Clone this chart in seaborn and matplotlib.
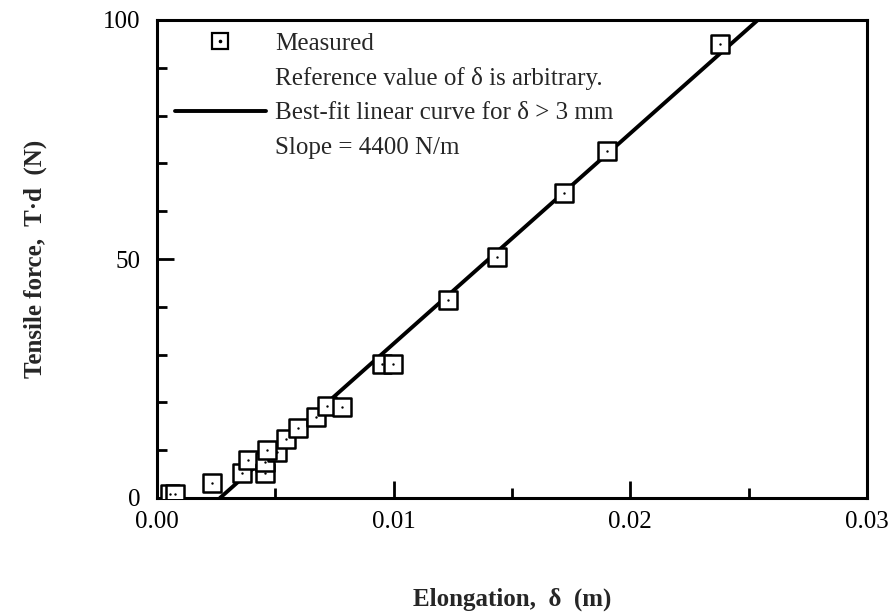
import matplotlib
matplotlib.use("Agg")
import matplotlib.pyplot as plt
from matplotlib.lines import Line2D
from matplotlib.ticker import MultipleLocator, FormatStrFormatter
import numpy as np
import pandas as pd
import seaborn as sns

# ---- data ----
elongation_m = [0.00055, 0.00076, 0.00231, 0.00361, 0.00383, 0.00456, 0.00456,
                0.00506, 0.00463, 0.00544, 0.00594, 0.00671, 0.00718, 0.00783,
                0.00950, 0.00999, 0.01230, 0.01437, 0.01720, 0.01900, 0.02380]
tensile_N = [0.84, 0.84, 3.07, 5.3, 7.9, 5.3, 7.46,
             9.7, 10.0, 12.3, 14.6, 16.9, 19.25, 19.1,
             28.0, 28.0, 41.4, 50.4, 63.8, 72.6, 95.0]

fit_slope_N_per_m = 4400.0
fit_x_intercept_m = 0.00266
fit_force_range = [0.0, 100.0]

x_ticks_major = [0.00, 0.01, 0.02, 0.03]
y_ticks_major = [0, 50, 100]

legend_labels = ["Measured",
                 "Reference value of \u03b4 is arbitrary.",
                 "Best-fit linear curve for \u03b4 > 3 mm",
                 "Slope = 4400 N/m"]

meas = pd.DataFrame({"x": elongation_m, "y": tensile_N})
fit_y = np.array(fit_force_range)
fit = pd.DataFrame({"y": fit_y, "x": fit_x_intercept_m + fit_y / fit_slope_N_per_m})

# ---- style ----
sns.set_theme(style="ticks")
plt.rcParams["font.family"] = ["Liberation Serif", "DejaVu Serif"]

fig = plt.figure(figsize=(8.95, 6.16), dpi=100)
ax = fig.add_axes([157 / 895, 1 - 498 / 616, (867 - 157) / 895, (498 - 20) / 616])

sns.lineplot(data=fit, x="x", y="y", ax=ax, color="black", linewidth=2.8,
             sort=False, estimator=None, zorder=2)
sns.scatterplot(data=meas, x="x", y="y", ax=ax, marker="s", s=150,
                facecolor="white", edgecolor="black", linewidth=1.8, zorder=3)
sns.scatterplot(data=meas, x="x", y="y", ax=ax, marker="o", s=3,
                color="black", linewidth=0, zorder=4)

ax.set_xlim(0, 0.03)
ax.set_ylim(0, 100)
ax.set_xticks(x_ticks_major)
ax.set_yticks(y_ticks_major)
ax.xaxis.set_minor_locator(MultipleLocator(0.005))
ax.yaxis.set_minor_locator(MultipleLocator(10))
ax.xaxis.set_major_formatter(FormatStrFormatter("%.2f"))
ax.tick_params(which="both", direction="in", top=False, right=False,
               width=2.0, colors="black", labelsize=18)
ax.tick_params(which="major", length=12)
ax.tick_params(which="minor", length=7)
ax.tick_params(axis="x", pad=9.5)
ax.tick_params(axis="y", pad=12)
for sp in ax.spines.values():
    sp.set_visible(True)
    sp.set_linewidth(2.2)
    sp.set_color("black")

ax.set_xlabel("Elongation,  \u03b4  (m)", fontsize=18, fontweight="bold", labelpad=39)
ax.set_ylabel("Tensile force,  T\u00b7d  (N)", fontsize=18, fontweight="bold", labelpad=40)

sq = Line2D([], [], marker="s", ls="none", mfc="white", mec="black", ms=11, mew=1.6)
dot = Line2D([], [], marker="o", ls="none", color="black", ms=1.6)
blank = Line2D([], [], ls="none", marker=None)
ln = Line2D([], [], color="black", lw=2.8)
ax.legend([(sq, dot), blank, ln, blank], legend_labels, loc="upper left",
          bbox_to_anchor=(0.011, 0.995), frameon=False, fontsize=18,
          handlelength=3.65, handletextpad=0.35, labelspacing=0.48,
          borderaxespad=0.0)

fig.savefig("out.png", dpi=100)
